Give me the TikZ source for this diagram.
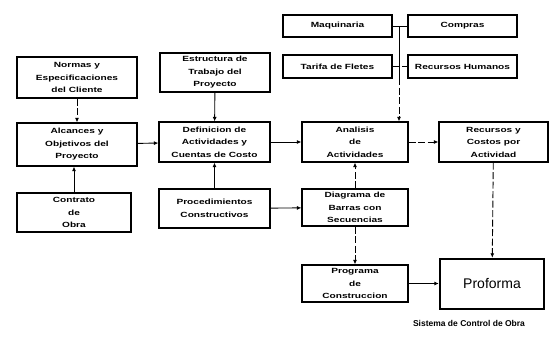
\documentclass[tikz,border=0pt]{standalone}
\usepackage{fontspec}
\setmainfont{Liberation Sans}
\newfontfamily\boxfont[FakeStretch=1.35]{Liberation Sans Bold}
\newfontfamily\titlefont{Liberation Sans Bold}
\usetikzlibrary{arrows.meta}
\tikzset{
  box/.style={draw=black, line width=1.1pt, minimum width=#1, align=center, inner sep=1pt,
    font=\boxfont\fontsize{7.5}{12.5}\selectfont},
  box/.default=110pt,
  arr/.style={line width=0.9pt, -{Latex[length=4.5pt,width=4pt]}},
  dsh/.style={dash pattern=on 7pt off 2.5pt},
}
\begin{document}
\begin{tikzpicture}[x=1pt,y=-1pt]
\useasboundingbox[fill=white] (0,0) rectangle (560,340);
% left column
\node[box=120pt, minimum height=41pt] (normas) at (77,77.5) {Normas y\\Especificaciones\\del Cliente};
\node[box=120pt, minimum height=43pt] (alcances) at (77,144.5) {Alcances y\\Objetivos del\\Proyecto};
\node[box=114pt, minimum height=39pt] (contrato) at (74,212.5) {Contrato\\de\\Obra};
% second column
\node[box=110pt, minimum height=39pt] (estructura) at (215,72.5) {Estructura de\\Trabajo del\\Proyecto};
\node[box=111pt, minimum height=40pt] (definicion) at (214.5,142) {Definicion de\\Actividades y\\Cuentas de Costo};
\node[box=111pt, minimum height=39pt] (proced) at (214.5,208.5) {Procedimientos\\Constructivos};
% resources
\node[box=109pt, minimum height=22pt] (maq) at (337.5,26) {Maquinaria};
\node[box=109pt, minimum height=22pt] (compras) at (462.5,26) {Compras};
\node[box=109pt, minimum height=23pt] (tarifa) at (337.5,66.5) {Tarifa de Fletes};
\node[box=109pt, minimum height=23pt] (rrhh) at (462.5,66.5) {Recursos Humanos};
% third column
\node[box=106pt, minimum height=40pt] (analisis) at (355,142) {Analisis\\de\\Actividades};
\node[box=106pt, minimum height=37pt] (diagrama) at (355,207.5) {Diagrama de\\Barras con\\Secuencias};
\node[box=106pt, minimum height=37pt] (programa) at (355,283.5) {Programa\\de\\Construccion};
% fourth column
\node[box=109pt, minimum height=40pt] (recursos) at (493.5,142) {Recursos y\\Costos por\\Actividad};
\node[draw=black, line width=2.4pt, minimum width=104pt, minimum height=50pt,
      font=\fontsize{14}{16}\selectfont] (proforma) at (492,284) {Proforma};
\node[font=\titlefont\fontsize{8.5}{10}\selectfont] (titulo) at (469,323) {Sistema de Control de Obra};
% connectors
\draw[arr, dsh] (normas) -- (alcances);
\draw[arr] (contrato) -- (contrato |- alcances.south);
\draw[arr] (alcances) -- (definicion);
\draw[arr] (estructura) -- (definicion);
\draw[arr] (proced) -- (definicion);
\draw[arr] (definicion) -- (analisis);
\draw[arr] (proced) -- (diagrama);
\draw[arr, dsh] (diagrama) -- (analisis);
\draw[arr, dsh] (diagrama) -- (programa);
\draw[arr] (programa) -- (proforma.west |- programa);
\draw[arr, dsh] (analisis) -- (recursos);
\draw[arr, dsh] (recursos) -- (proforma);
% resource junctions
\coordinate (j1) at (399,26);
\coordinate (j2) at (399,78);
\draw[line width=0.9pt] (maq) -- (compras);
\draw[line width=0.9pt] (j1) -- (j2);
\draw[line width=0.9pt, dsh] (tarifa) -- (rrhh);
\draw[arr, dsh] (j2) -- (j2 |- analisis.north);
\end{tikzpicture}
\end{document}
